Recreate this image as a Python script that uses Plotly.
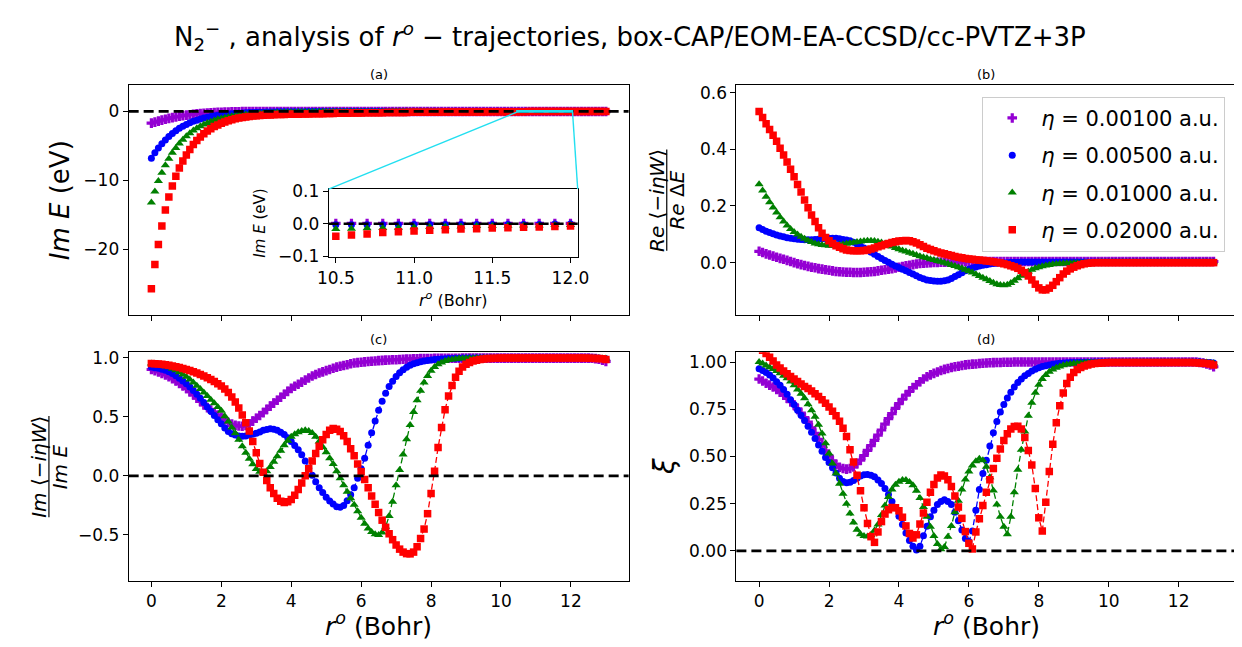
import plotly.graph_objects as go

# ---------------- data ----------------
R = [0.0, 0.1, 0.2, 0.3, 0.4, 0.5, 0.6, 0.7, 0.8, 0.9,
     1.0, 1.1, 1.2, 1.3, 1.4, 1.5, 1.6, 1.7, 1.8, 1.9,
     2.0, 2.1, 2.2, 2.3, 2.4, 2.5, 2.6, 2.7, 2.8, 2.9,
     3.0, 3.1, 3.2, 3.3, 3.4, 3.5, 3.6, 3.7, 3.8, 3.9,
     4.0, 4.1, 4.2, 4.3, 4.4, 4.5, 4.6, 4.7, 4.8, 4.9,
     5.0, 5.1, 5.2, 5.3, 5.4, 5.5, 5.6, 5.7, 5.8, 5.9,
     6.0, 6.1, 6.2, 6.3, 6.4, 6.5, 6.6, 6.7, 6.8, 6.9,
     7.0, 7.1, 7.2, 7.3, 7.4, 7.5, 7.6, 7.7, 7.8, 7.9,
     8.0, 8.1, 8.2, 8.3, 8.4, 8.5, 8.6, 8.7, 8.8, 8.9,
     9.0, 9.1, 9.2, 9.3, 9.4, 9.5, 9.6, 9.7, 9.8, 9.9,
     10.0, 10.1, 10.2, 10.3, 10.4, 10.5, 10.6, 10.7, 10.8, 10.9,
     11.0, 11.1, 11.2, 11.3, 11.4, 11.5, 11.6, 11.7, 11.8, 11.9,
     12.0, 12.1, 12.2, 12.3, 12.4, 12.5, 12.6, 12.7, 12.8, 12.9,
     13.0]

ETA_LABELS = ["0.00100", "0.00500", "0.01000", "0.02000"]

# (a) Im E (eV)
IME_P = [-1.70, -1.55, -1.40, -1.26, -1.13, -1.01, -0.90, -0.80, -0.70, -0.62,
         -0.54, -0.47, -0.41, -0.35, -0.30, -0.26, -0.22, -0.19, -0.16, -0.13,
         -0.11, -0.095, -0.08, -0.065, -0.05, -0.04, -0.03, -0.025, -0.02, -0.015,
         -0.010, -0.008, -0.006, -0.005, -0.004, -0.003, -0.002, -0.002, -0.001, -0.001,
         0.000, 0.000, 0.000, 0.001, 0.001, 0.001, 0.001, 0.001, 0.001, 0.001,
         0.001, 0.001, 0.001, 0.001, 0.001, 0.001, 0.001, 0.001, 0.001, 0.001,
         0.001, 0.001, 0.001, 0.001, 0.001, 0.001, 0.001, 0.001, 0.001, 0.001,
         0.001, 0.001, 0.001, 0.001, 0.001, 0.001, 0.001, 0.001, 0.001, 0.001,
         0.001, 0.001, 0.001, 0.001, 0.001, 0.001, 0.001, 0.001, 0.001, 0.001,
         0.001, 0.001, 0.001, 0.001, 0.001, 0.001, 0.001, 0.001, 0.001, 0.001,
         0.001, 0.001, 0.001, 0.001, 0.001, 0.001, 0.001, 0.001, 0.001, 0.001,
         0.001, 0.001, 0.001, 0.001, 0.001, 0.001, 0.001, 0.001, 0.001, 0.001,
         0.001, 0.001, 0.001, 0.001, 0.001, 0.001, 0.001, 0.001, 0.001, 0.001,
         0.001]
IME_B = [-6.80, -6.00, -5.30, -4.70, -4.15, -3.65, -3.20, -2.80, -2.45, -2.15,
         -1.88, -1.65, -1.44, -1.26, -1.10, -0.96, -0.84, -0.73, -0.64, -0.56,
         -0.49, -0.43, -0.38, -0.33, -0.29, -0.25, -0.22, -0.19, -0.17, -0.15,
         -0.13, -0.115, -0.10, -0.09, -0.08, -0.07, -0.062, -0.055, -0.049, -0.044,
         -0.040, -0.036, -0.033, -0.030, -0.028, -0.026, -0.024, -0.022, -0.021, -0.020,
         -0.019, -0.018, -0.017, -0.016, -0.015, -0.015, -0.014, -0.014, -0.013, -0.013,
         -0.012, -0.012, -0.011, -0.011, -0.011, -0.010, -0.010, -0.010, -0.009, -0.009,
         -0.009, -0.009, -0.008, -0.008, -0.008, -0.008, -0.007, -0.007, -0.007, -0.007,
         -0.007, -0.006, -0.006, -0.006, -0.006, -0.006, -0.006, -0.005, -0.005, -0.005,
         -0.005, -0.005, -0.005, -0.005, -0.004, -0.004, -0.004, -0.004, -0.004, -0.004,
         -0.004, -0.004, -0.003, -0.003, -0.003, -0.003, -0.003, -0.003, -0.003, -0.003,
         -0.002, -0.002, -0.002, -0.002, -0.002, -0.002, -0.002, -0.002, -0.002, -0.001,
         -0.001, -0.001, -0.001, -0.001, -0.001, -0.001, -0.001, -0.001, -0.001, -0.001,
         -0.001]
IME_G = [-13.2, -11.6, -10.1, -8.9, -7.8, -6.85, -6.0, -5.3, -4.65, -4.1,
         -3.6, -3.15, -2.78, -2.45, -2.15, -1.90, -1.68, -1.48, -1.30, -1.15,
         -1.02, -0.90, -0.80, -0.71, -0.63, -0.56, -0.50, -0.44, -0.39, -0.35,
         -0.31, -0.28, -0.25, -0.22, -0.20, -0.18, -0.16, -0.145, -0.13, -0.12,
         -0.11, -0.10, -0.093, -0.086, -0.080, -0.075, -0.070, -0.066, -0.062, -0.058,
         -0.055, -0.052, -0.049, -0.047, -0.045, -0.043, -0.041, -0.039, -0.038, -0.036,
         -0.035, -0.034, -0.033, -0.032, -0.031, -0.030, -0.029, -0.028, -0.028, -0.027,
         -0.026, -0.026, -0.025, -0.025, -0.024, -0.024, -0.023, -0.023, -0.022, -0.022,
         -0.022, -0.021, -0.021, -0.021, -0.020, -0.020, -0.020, -0.020, -0.019, -0.019,
         -0.019, -0.019, -0.018, -0.018, -0.018, -0.018, -0.018, -0.017, -0.017, -0.017,
         -0.017, -0.017, -0.017, -0.016, -0.016, -0.016, -0.015, -0.014, -0.013, -0.012,
         -0.011, -0.010, -0.009, -0.008, -0.007, -0.007, -0.006, -0.005, -0.005, -0.004,
         -0.004, -0.003, -0.003, -0.003, -0.002, -0.002, -0.002, -0.002, -0.001, -0.001,
         -0.001]
IME_R = [-25.7, -22.2, -19.3, -16.6, -14.3, -12.4, -10.8, -9.4, -8.2, -7.2,
         -6.3, -5.5, -4.8, -4.2, -3.7, -3.25, -2.85, -2.5, -2.2, -1.95,
         -1.72, -1.52, -1.35, -1.20, -1.07, -0.96, -0.87, -0.79, -0.72, -0.66,
         -0.61, -0.58, -0.55, -0.52, -0.50, -0.48, -0.46, -0.44, -0.43, -0.42,
         -0.41, -0.40, -0.39, -0.38, -0.37, -0.36, -0.35, -0.34, -0.33, -0.32,
         -0.31, -0.30, -0.29, -0.28, -0.27, -0.26, -0.25, -0.24, -0.23, -0.22,
         -0.21, -0.20, -0.195, -0.19, -0.185, -0.18, -0.175, -0.17, -0.165, -0.16,
         -0.155, -0.15, -0.145, -0.14, -0.135, -0.13, -0.126, -0.122, -0.118, -0.114,
         -0.110, -0.106, -0.102, -0.098, -0.095, -0.092, -0.089, -0.086, -0.083, -0.080,
         -0.077, -0.074, -0.071, -0.068, -0.066, -0.064, -0.062, -0.060, -0.058, -0.056,
         -0.054, -0.051, -0.048, -0.045, -0.041, -0.038, -0.034, -0.031, -0.027, -0.024,
         -0.022, -0.020, -0.018, -0.016, -0.015, -0.013, -0.012, -0.011, -0.010, -0.008,
         -0.007, -0.006, -0.006, -0.005, -0.005, -0.004, -0.004, -0.003, -0.003, -0.003,
         -0.002]

# (b) Re<-i eta W> / Re dE
RE_P = [0.040, 0.036, 0.031, 0.027, 0.023, 0.019, 0.015, 0.012, 0.008, 0.004,
        0.000, -0.004, -0.007, -0.010, -0.013, -0.016, -0.018, -0.021, -0.023, -0.025,
        -0.027, -0.029, -0.031, -0.032, -0.033, -0.034, -0.034, -0.035, -0.035, -0.035,
        -0.034, -0.033, -0.032, -0.031, -0.029, -0.027, -0.025, -0.023, -0.021, -0.019,
        -0.016, -0.014, -0.011, -0.009, -0.007, -0.005, -0.003, -0.002, -0.001, 0.000,
        0.001, 0.001, 0.002, 0.002, 0.002, 0.003, 0.003, 0.003, 0.003, 0.003,
        0.004, 0.004, 0.004, 0.004, 0.004, 0.004, 0.004, 0.004, 0.004, 0.004,
        0.004, 0.004, 0.004, 0.004, 0.004, 0.004, 0.004, 0.004, 0.004, 0.004,
        0.004, 0.004, 0.004, 0.004, 0.004, 0.004, 0.004, 0.004, 0.004, 0.004,
        0.004, 0.004, 0.004, 0.004, 0.004, 0.004, 0.004, 0.004, 0.004, 0.004,
        0.004, 0.004, 0.004, 0.004, 0.004, 0.004, 0.004, 0.004, 0.004, 0.004,
        0.004, 0.004, 0.004, 0.004, 0.004, 0.004, 0.004, 0.004, 0.004, 0.004,
        0.004, 0.004, 0.004, 0.004, 0.004, 0.004, 0.004, 0.004, 0.004, 0.004,
        0.004]
RE_B = [0.123, 0.117, 0.111, 0.106, 0.102, 0.098, 0.094, 0.091, 0.088, 0.086,
        0.084, 0.083, 0.082, 0.081, 0.081, 0.081, 0.082, 0.083, 0.084, 0.085,
        0.086, 0.086, 0.086, 0.084, 0.082, 0.080, 0.077, 0.072, 0.066, 0.059,
        0.052, 0.045, 0.037, 0.030, 0.022, 0.015, 0.008, 0.001, -0.006, -0.012,
        -0.017, -0.023, -0.029, -0.035, -0.040, -0.046, -0.052, -0.057, -0.061, -0.063,
        -0.065, -0.066, -0.066, -0.064, -0.061, -0.056, -0.049, -0.043, -0.036, -0.029,
        -0.023, -0.019, -0.015, -0.012, -0.009, -0.007, -0.005, -0.003, -0.002, -0.001,
        0.000, 0.000, 0.001, 0.001, 0.001, 0.002, 0.002, 0.002, 0.002, 0.002,
        0.002, 0.002, 0.002, 0.002, 0.002, 0.002, 0.002, 0.002, 0.002, 0.002,
        0.002, 0.002, 0.002, 0.002, 0.002, 0.002, 0.002, 0.002, 0.002, 0.002,
        0.002, 0.002, 0.002, 0.002, 0.002, 0.002, 0.002, 0.002, 0.002, 0.002,
        0.002, 0.002, 0.002, 0.002, 0.002, 0.002, 0.002, 0.002, 0.002, 0.002,
        0.002, 0.002, 0.002, 0.002, 0.002, 0.002, 0.002, 0.002, 0.002, 0.002,
        0.002]
RE_G = [0.277, 0.255, 0.233, 0.213, 0.195, 0.177, 0.160, 0.145, 0.131, 0.119,
        0.108, 0.099, 0.091, 0.084, 0.078, 0.073, 0.068, 0.065, 0.062, 0.061,
        0.060, 0.060, 0.061, 0.063, 0.065, 0.067, 0.069, 0.071, 0.073, 0.075,
        0.076, 0.077, 0.077, 0.076, 0.074, 0.071, 0.067, 0.062, 0.057, 0.052,
        0.047, 0.043, 0.039, 0.035, 0.031, 0.027, 0.023, 0.019, 0.016, 0.012,
        0.009, 0.006, 0.003, 0.000, -0.004, -0.008, -0.012, -0.016, -0.020, -0.025,
        -0.030, -0.035, -0.041, -0.047, -0.053, -0.059, -0.065, -0.071, -0.076, -0.079,
        -0.080, -0.078, -0.072, -0.064, -0.055, -0.046, -0.038, -0.031, -0.025, -0.020,
        -0.016, -0.013, -0.010, -0.008, -0.006, -0.005, -0.004, -0.003, -0.002, -0.002,
        -0.001, -0.001, -0.001, 0.000, 0.000, 0.000, 0.000, 0.001, 0.001, 0.001,
        0.001, 0.001, 0.001, 0.001, 0.001, 0.001, 0.001, 0.001, 0.001, 0.001,
        0.001, 0.001, 0.001, 0.001, 0.001, 0.001, 0.001, 0.001, 0.001, 0.001,
        0.001, 0.001, 0.001, 0.001, 0.001, 0.001, 0.001, 0.001, 0.001, 0.001,
        0.001]
RE_R = [0.533, 0.512, 0.490, 0.470, 0.450, 0.428, 0.404, 0.380, 0.355, 0.330,
        0.303, 0.276, 0.249, 0.221, 0.194, 0.168, 0.145, 0.123, 0.104, 0.089,
        0.077, 0.068, 0.060, 0.054, 0.049, 0.045, 0.043, 0.042, 0.042, 0.042,
        0.043, 0.045, 0.048, 0.052, 0.056, 0.060, 0.064, 0.068, 0.071, 0.074,
        0.076, 0.077, 0.078, 0.077, 0.074, 0.069, 0.063, 0.057, 0.051, 0.046,
        0.042, 0.038, 0.034, 0.031, 0.028, 0.025, 0.022, 0.019, 0.017, 0.015,
        0.013, 0.012, 0.010, 0.009, 0.008, 0.006, 0.005, 0.003, 0.001, -0.001,
        -0.004, -0.007, -0.011, -0.015, -0.020, -0.027, -0.035, -0.047, -0.061, -0.076,
        -0.089, -0.096, -0.096, -0.090, -0.080, -0.067, -0.053, -0.040, -0.030, -0.022,
        -0.016, -0.011, -0.007, -0.004, -0.002, -0.001, 0.000, 0.000, 0.000, 0.000,
        0.000, 0.000, 0.000, 0.000, 0.000, 0.000, 0.000, 0.000, 0.000, 0.000,
        0.000, 0.000, 0.000, 0.000, 0.000, 0.000, 0.000, 0.000, 0.000, 0.000,
        0.000, 0.000, 0.000, 0.000, 0.000, 0.000, 0.000, 0.000, 0.000, 0.000,
        0.000]

# (c) Im<-i eta W> / Im E
IMC_P = [0.900, 0.890, 0.879, 0.867, 0.854, 0.840, 0.822, 0.802, 0.781, 0.760,
         0.740, 0.713, 0.686, 0.658, 0.629, 0.600, 0.577, 0.556, 0.535, 0.515,
         0.495, 0.472, 0.452, 0.438, 0.428, 0.422, 0.420, 0.426, 0.440, 0.463,
         0.488, 0.511, 0.535, 0.562, 0.590, 0.615, 0.640, 0.665, 0.690, 0.715,
         0.740, 0.758, 0.775, 0.793, 0.810, 0.828, 0.845, 0.858, 0.870, 0.880,
         0.890, 0.900, 0.910, 0.920, 0.928, 0.934, 0.940, 0.948, 0.955, 0.958,
         0.961, 0.964, 0.967, 0.970, 0.972, 0.975, 0.977, 0.979, 0.980, 0.982,
         0.983, 0.985, 0.986, 0.988, 0.989, 0.990, 0.991, 0.992, 0.992, 0.993,
         0.993, 0.994, 0.994, 0.994, 0.995, 0.995, 0.995, 0.995, 0.995, 0.996,
         0.996, 0.996, 0.996, 0.996, 0.996, 0.996, 0.996, 0.996, 0.996, 0.996,
         0.996, 0.996, 0.996, 0.996, 0.996, 0.996, 0.996, 0.996, 0.996, 0.996,
         0.996, 0.996, 0.996, 0.996, 0.996, 0.996, 0.996, 0.996, 0.996, 0.996,
         0.996, 0.996, 0.996, 0.996, 0.996, 0.996, 0.995, 0.992, 0.987, 0.978,
         0.968]
IMC_B = [0.920, 0.915, 0.910, 0.903, 0.894, 0.880, 0.865, 0.846, 0.825, 0.802,
         0.780, 0.752, 0.722, 0.690, 0.656, 0.620, 0.583, 0.546, 0.510, 0.475,
         0.440, 0.405, 0.375, 0.356, 0.345, 0.338, 0.335, 0.338, 0.345, 0.352,
         0.360, 0.372, 0.385, 0.393, 0.398, 0.394, 0.385, 0.370, 0.350, 0.322,
         0.290, 0.257, 0.220, 0.178, 0.125, 0.065, 0.005, -0.050, -0.100, -0.140,
         -0.180, -0.212, -0.238, -0.262, -0.265, -0.250, -0.210, -0.160, -0.100, -0.020,
         0.060, 0.150, 0.260, 0.365, 0.465, 0.555, 0.632, 0.700, 0.755, 0.800,
         0.840, 0.872, 0.898, 0.918, 0.935, 0.948, 0.958, 0.966, 0.972, 0.977,
         0.981, 0.984, 0.987, 0.989, 0.991, 0.993, 0.994, 0.995, 0.996, 0.997,
         0.997, 0.997, 0.998, 0.998, 0.998, 0.998, 0.998, 0.998, 0.998, 0.998,
         0.998, 0.998, 0.998, 0.998, 0.998, 0.998, 0.998, 0.998, 0.998, 0.998,
         0.998, 0.998, 0.998, 0.998, 0.998, 0.998, 0.998, 0.998, 0.998, 0.998,
         0.998, 0.998, 0.998, 0.998, 0.998, 0.998, 0.998, 0.997, 0.995, 0.993,
         0.990]
IMC_G = [0.950, 0.945, 0.940, 0.934, 0.927, 0.918, 0.907, 0.893, 0.877, 0.858,
         0.838, 0.815, 0.790, 0.763, 0.735, 0.705, 0.675, 0.645, 0.615, 0.583,
         0.550, 0.505, 0.460, 0.410, 0.360, 0.305, 0.250, 0.195, 0.145, 0.098,
         0.058, 0.035, 0.027, 0.038, 0.075, 0.120, 0.165, 0.212, 0.260, 0.298,
         0.330, 0.352, 0.370, 0.380, 0.385, 0.380, 0.362, 0.330, 0.290, 0.245,
         0.200, 0.150, 0.100, 0.040, -0.020, -0.080, -0.135, -0.190, -0.245, -0.300,
         -0.355, -0.405, -0.445, -0.475, -0.495, -0.500, -0.480, -0.430, -0.340, -0.220,
         -0.080, 0.050, 0.180, 0.310, 0.430, 0.540, 0.640, 0.720, 0.790, 0.845,
         0.890, 0.922, 0.945, 0.960, 0.972, 0.980, 0.985, 0.989, 0.992, 0.994,
         0.995, 0.996, 0.996, 0.997, 0.997, 0.997, 0.998, 0.998, 0.998, 0.998,
         0.998, 0.998, 0.998, 0.998, 0.998, 0.998, 0.998, 0.998, 0.998, 0.998,
         0.998, 0.998, 0.998, 0.998, 0.998, 0.998, 0.998, 0.998, 0.998, 0.998,
         0.998, 0.998, 0.998, 0.998, 0.998, 0.998, 0.998, 0.997, 0.996, 0.994,
         0.992]
IMC_R = [0.950, 0.949, 0.947, 0.944, 0.940, 0.935, 0.930, 0.924, 0.917, 0.909,
         0.900, 0.891, 0.881, 0.870, 0.858, 0.845, 0.830, 0.815, 0.798, 0.780,
         0.760, 0.735, 0.705, 0.668, 0.625, 0.575, 0.515, 0.450, 0.380, 0.290,
         0.195, 0.105, 0.030, -0.040, -0.100, -0.150, -0.190, -0.215, -0.225, -0.220,
         -0.200, -0.165, -0.115, -0.060, 0.000, 0.060, 0.125, 0.190, 0.250, 0.305,
         0.350, 0.385, 0.400, 0.395, 0.375, 0.340, 0.290, 0.230, 0.170, 0.100,
         0.035, -0.030, -0.100, -0.170, -0.240, -0.310, -0.375, -0.435, -0.490, -0.540,
         -0.585, -0.620, -0.645, -0.658, -0.660, -0.645, -0.600, -0.530, -0.450, -0.320,
         -0.150, 0.040, 0.240, 0.410, 0.560, 0.675, 0.765, 0.835, 0.885, 0.920,
         0.945, 0.960, 0.971, 0.979, 0.985, 0.989, 0.992, 0.994, 0.995, 0.996,
         0.997, 0.997, 0.997, 0.997, 0.997, 0.997, 0.997, 0.997, 0.997, 0.997,
         0.997, 0.997, 0.997, 0.997, 0.997, 0.997, 0.997, 0.997, 0.997, 0.997,
         0.997, 0.997, 0.997, 0.997, 0.997, 0.996, 0.995, 0.994, 0.992, 0.990,
         0.985]

# (d) xi
XI_P = [0.910, 0.900, 0.888, 0.878, 0.868, 0.855, 0.840, 0.825, 0.808, 0.790,
        0.773, 0.752, 0.730, 0.706, 0.682, 0.652, 0.622, 0.590, 0.560, 0.530,
        0.502, 0.477, 0.457, 0.443, 0.436, 0.433, 0.436, 0.445, 0.462, 0.480,
        0.505, 0.532, 0.557, 0.585, 0.613, 0.640, 0.671, 0.700, 0.727, 0.755,
        0.780, 0.803, 0.825, 0.845, 0.865, 0.880, 0.896, 0.910, 0.922, 0.932,
        0.940, 0.947, 0.955, 0.961, 0.966, 0.971, 0.975, 0.978, 0.982, 0.985,
        0.987, 0.989, 0.990, 0.992, 0.994, 0.995, 0.996, 0.997, 0.998, 0.998,
        0.999, 0.999, 0.999, 1.000, 1.000, 1.000, 1.000, 1.000, 1.000, 1.000,
        1.000, 1.000, 1.000, 1.000, 1.000, 1.000, 1.000, 1.000, 1.000, 1.000,
        1.000, 1.000, 1.000, 1.000, 1.000, 1.000, 1.000, 1.000, 1.000, 1.000,
        1.000, 1.000, 1.000, 1.000, 1.000, 1.000, 1.000, 1.000, 1.000, 1.000,
        1.000, 1.000, 1.000, 1.000, 1.000, 1.000, 1.000, 1.000, 1.000, 1.000,
        1.000, 1.000, 1.000, 1.000, 1.000, 1.000, 0.998, 0.995, 0.990, 0.985,
        0.975]
XI_B = [0.965, 0.955, 0.945, 0.932, 0.915, 0.895, 0.877, 0.855, 0.830, 0.800,
        0.775, 0.745, 0.718, 0.690, 0.660, 0.628, 0.595, 0.560, 0.527, 0.495,
        0.468, 0.440, 0.412, 0.385, 0.367, 0.361, 0.363, 0.372, 0.385, 0.397,
        0.403, 0.405, 0.400, 0.392, 0.375, 0.357, 0.330, 0.298, 0.262, 0.228,
        0.183, 0.140, 0.095, 0.055, 0.025, 0.005, 0.025, 0.080, 0.130, 0.180,
        0.215, 0.245, 0.262, 0.270, 0.262, 0.245, 0.205, 0.160, 0.110, 0.065,
        0.050, 0.105, 0.215, 0.325, 0.410, 0.480, 0.555, 0.625, 0.685, 0.735,
        0.775, 0.810, 0.840, 0.868, 0.892, 0.910, 0.928, 0.940, 0.952, 0.962,
        0.970, 0.976, 0.981, 0.985, 0.988, 0.991, 0.993, 0.995, 0.996, 0.997,
        0.998, 0.998, 0.999, 0.999, 0.999, 0.999, 1.000, 1.000, 1.000, 1.000,
        1.000, 1.000, 1.000, 1.000, 1.000, 1.000, 1.000, 1.000, 1.000, 1.000,
        1.000, 1.000, 1.000, 1.000, 1.000, 1.000, 1.000, 1.000, 1.000, 1.000,
        1.000, 1.000, 1.000, 1.000, 1.000, 1.000, 1.000, 0.999, 0.998, 0.997,
        0.995]
XI_G = [1.000, 0.992, 0.982, 0.972, 0.963, 0.953, 0.941, 0.928, 0.914, 0.897,
        0.877, 0.855, 0.832, 0.808, 0.776, 0.745, 0.710, 0.668, 0.622, 0.570,
        0.515, 0.462, 0.410, 0.355, 0.302, 0.250, 0.198, 0.150, 0.112, 0.088,
        0.078, 0.076, 0.084, 0.108, 0.140, 0.190, 0.240, 0.285, 0.325, 0.350,
        0.366, 0.375, 0.375, 0.365, 0.348, 0.318, 0.280, 0.232, 0.180, 0.128,
        0.078, 0.036, 0.008, 0.020, 0.075, 0.132, 0.205, 0.265, 0.325, 0.378,
        0.420, 0.452, 0.475, 0.488, 0.480, 0.445, 0.390, 0.320, 0.245, 0.180,
        0.128, 0.088, 0.180, 0.310, 0.430, 0.535, 0.632, 0.715, 0.785, 0.838,
        0.880, 0.910, 0.932, 0.948, 0.960, 0.970, 0.977, 0.983, 0.987, 0.990,
        0.992, 0.994, 0.995, 0.996, 0.997, 0.997, 0.998, 0.998, 0.998, 0.999,
        0.999, 0.999, 0.999, 0.999, 0.999, 0.999, 0.999, 0.999, 0.999, 0.999,
        0.999, 0.999, 0.999, 0.999, 0.999, 0.999, 0.999, 0.999, 0.999, 0.999,
        0.999, 0.999, 0.999, 0.999, 0.999, 0.999, 0.999, 0.998, 0.997, 0.995,
        0.993]
XI_R = [1.080, 1.062, 1.045, 1.025, 1.005, 0.985, 0.968, 0.952, 0.938, 0.924,
        0.910, 0.897, 0.884, 0.871, 0.860, 0.846, 0.832, 0.818, 0.800, 0.782,
        0.762, 0.740, 0.715, 0.686, 0.650, 0.605, 0.535, 0.470, 0.400, 0.318,
        0.228, 0.145, 0.075, 0.045, 0.100, 0.155, 0.195, 0.218, 0.230, 0.228,
        0.212, 0.178, 0.132, 0.092, 0.068, 0.085, 0.142, 0.200, 0.258, 0.310,
        0.352, 0.386, 0.402, 0.397, 0.376, 0.341, 0.291, 0.232, 0.172, 0.102,
        0.040, 0.010, 0.100, 0.170, 0.240, 0.310, 0.376, 0.436, 0.490, 0.540,
        0.585, 0.620, 0.645, 0.658, 0.660, 0.645, 0.600, 0.532, 0.455, 0.330,
        0.175, 0.105, 0.258, 0.420, 0.565, 0.678, 0.768, 0.836, 0.886, 0.920,
        0.945, 0.960, 0.971, 0.979, 0.985, 0.989, 0.992, 0.994, 0.995, 0.996,
        0.997, 0.997, 0.997, 0.997, 0.997, 0.997, 0.997, 0.997, 0.997, 0.997,
        0.997, 0.997, 0.997, 0.997, 0.997, 0.997, 0.997, 0.997, 0.997, 0.997,
        0.997, 0.997, 0.997, 0.997, 0.997, 0.996, 0.995, 0.994, 0.992, 0.990,
        0.985]

for _arr in (IME_P, IME_B, IME_G, IME_R, RE_P, RE_B, RE_G, RE_R, IMC_P, IMC_B, IMC_G, IMC_R,
             XI_P, XI_B, XI_G, XI_R):
    assert len(_arr) == len(R), len(_arr)

# ---------------- styling / layout ----------------
W, H = 1242, 647
OFF = 8  # the page body margin shifts the figure by this much
FONT = "DejaVu Sans"
STYLES = [
    dict(color="#9400D3", symbol="cross", size=8),
    dict(color="#0000FF", symbol="circle", size=7),
    dict(color="#008000", symbol="triangle-up", size=8),
    dict(color="#FF0000", symbol="square", size=7.5),
]


def px_x(v):
    """screen pixel x -> paper coordinate"""
    return (v - OFF) / W


def px_y(v):
    """screen pixel y -> paper coordinate"""
    return (H - (v - OFF)) / H


# axis boxes in screen pixels (left, right, top, bottom)
BOX = {
    "a": (118.8, 628.6, 79.3, 315.0),
    "b": (738.5, 1248.3, 79.3, 315.0),
    "c": (118.8, 628.6, 353.3, 588.3),
    "d": (738.5, 1248.3, 353.3, 588.3),
    "i": (322.7, 576.7, 185.7, 255.7),
}
XR = [-0.65, 13.65]
YR = {"a": [-29.5, 3.77], "b": [-0.1845, 0.6254], "c": [-0.89, 1.046], "d": [-0.16, 1.052],
      "i": [-0.102, 0.106]}
XR_INSET = [10.454, 12.046]

fig = go.Figure()

panels = [
    ("x", "y", [IME_P, IME_B, IME_G, IME_R], "markers"),
    ("x2", "y2", [RE_P, RE_B, RE_G, RE_R], "markers"),
    ("x3", "y3", [IMC_P, IMC_B, IMC_G, IMC_R], "lines+markers"),
    ("x4", "y4", [XI_P, XI_B, XI_G, XI_R], "lines+markers"),
    ("x5", "y5", [IME_P, IME_B, IME_G, IME_R], "markers"),
]
for xa, ya, ys, mode in panels:
    for st, yv in zip(STYLES, ys):
        fig.add_trace(go.Scatter(
            x=R, y=yv, xaxis=xa, yaxis=ya, mode=mode,
            line=dict(color=st["color"], width=1.3, dash="6px,3px"),
            marker=dict(symbol=st["symbol"], size=st["size"], color=st["color"]),
            showlegend=False, hoverinfo="skip"))

# legend entries
for st, lab in zip(STYLES, ETA_LABELS):
    fig.add_trace(go.Scatter(
        x=[None], y=[None], xaxis="x2", yaxis="y2", mode="markers",
        marker=dict(symbol=st["symbol"], size=st["size"], color=st["color"]),
        name="<i>η</i> = " + lab + " a.u.", legendgroup=lab, showlegend=True))


def axis(box, horizontal, rng, anchor, **kw):
    l, r, t, b = BOX[box]
    dom = [px_x(l), px_x(r)] if horizontal else [px_y(b), px_y(t)]
    d = dict(domain=dom, range=rng, anchor=anchor, showline=True, linecolor="black",
             linewidth=1, mirror=True, ticks="outside", ticklen=5, tickwidth=1,
             tickcolor="black", showgrid=False, zeroline=False,
             tickfont=dict(family=FONT, size=17, color="black"))
    d.update(kw)
    return d


XT = [0, 2, 4, 6, 8, 10, 12]
XTT = ["0", "2", "4", "6", "8", "10", "12"]

layout = dict(
    width=W, height=H, margin=dict(l=0, r=0, t=0, b=0),
    paper_bgcolor="white", plot_bgcolor="white",
    font=dict(family=FONT, color="black"),
    xaxis=axis("a", True, XR, "y", tickvals=XT, showticklabels=False),
    yaxis=axis("a", False, YR["a"], "x", tickvals=[-20, -10, 0], ticktext=["−20", "−10", "0"]),
    xaxis2=axis("b", True, XR, "y2", tickvals=XT, showticklabels=False),
    yaxis2=axis("b", False, YR["b"], "x2", tickvals=[0, 0.2, 0.4, 0.6],
                ticktext=["0.0", "0.2", "0.4", "0.6"]),
    xaxis3=axis("c", True, XR, "y3", tickvals=XT, ticktext=XTT),
    yaxis3=axis("c", False, YR["c"], "x3", tickvals=[-0.5, 0, 0.5, 1.0],
                ticktext=["−0.5", "0.0", "0.5", "1.0"]),
    xaxis4=axis("d", True, XR, "y4", tickvals=XT, ticktext=XTT),
    yaxis4=axis("d", False, YR["d"], "x4", tickvals=[0, 0.25, 0.5, 0.75, 1.0],
                ticktext=["0.00", "0.25", "0.50", "0.75", "1.00"]),
    xaxis5=axis("i", True, XR_INSET, "y5", tickvals=[10.5, 11.0, 11.5, 12.0],
                ticktext=["10.5", "11.0", "11.5", "12.0"]),
    yaxis5=axis("i", False, YR["i"], "x5", tickvals=[-0.1, 0.0, 0.1],
                ticktext=["−0.1", "0.0", "0.1"]),
    legend=dict(x=px_x(1237), xanchor="right", y=px_y(91), yanchor="top",
                bgcolor="rgba(255,255,255,0.85)", bordercolor="#cccccc", borderwidth=1,
                font=dict(family=FONT, size=21, color="black"),
                traceorder="grouped", tracegroupgap=7, itemwidth=48),
    showlegend=True,
)
fig.update_layout(**layout)

# ---------------- annotations ----------------
ann = []


def text(x, y, s, size, angle=0, **kw):
    d = dict(x=px_x(x), y=px_y(y), xref="paper", yref="paper", text=s, showarrow=False,
             textangle=angle, xanchor="center", yanchor="middle",
             font=dict(family=FONT, size=size, color="black"))
    d.update(kw)
    ann.append(d)


text(630, 29, "N<sub>2</sub><sup>−</sup> , analysis of <i>r<sup>o</sup></i> − trajectories, "
              "box-CAP/EOM-EA-CCSD/cc-PVTZ+3P", 26)
text(373.7, 68, "(a)", 13)
text(993.4, 68, "(b)", 13)
text(373.7, 340.7, "(c)", 13)
text(993.4, 340.7, "(d)", 13)
text(373.7, 633, "<i>r<sup>o</sup></i> (Bohr)", 25)
text(993.4, 633, "<i>r<sup>o</sup></i> (Bohr)", 25)
text(49, 197, "<i>Im E</i> (eV)", 26, angle=-90)
# fraction label (b)
text(657.5, 197, "<i>Re</i> ⟨−<i>iηW</i>⟩", 20, angle=-90)
text(677.5, 197, "<i>Re</i> Δ<i>E</i>", 20, angle=-90)
# fraction label (c)
text(26.5, 470.8, "<i>Im</i> ⟨−<i>iηW</i>⟩", 20, angle=-90)
text(48.5, 470.8, "<i>Im E</i>", 20, angle=-90)
# xi label (d)
text(665, 470.8, "<i>ξ</i>", 28, angle=-90)
# inset labels
text(253, 221, "<i>Im E</i> (eV)", 15, angle=-90)
text(449.7, 299, "<i>r<sup>o</sup></i> (Bohr)", 16)
fig.update_layout(annotations=ann)

# ---------------- shapes ----------------
shapes = []
for xr, yr in (("x", "y"), ("x3", "y3"), ("x4", "y4"), ("x5", "y5")):
    shapes.append(dict(type="line", xref=xr + " domain", yref=yr, x0=0, x1=1, y0=0, y1=0,
                       line=dict(color="black", width=2.7, dash="10px,5px"), layer="above"))

# fraction bars
shapes.append(dict(type="line", xref="paper", yref="paper", x0=px_x(667.5), x1=px_x(667.5),
                   y0=px_y(197 - 52), y1=px_y(197 + 52), line=dict(color="black", width=1.2)))
shapes.append(dict(type="line", xref="paper", yref="paper", x0=px_x(37.5), x1=px_x(37.5),
                   y0=px_y(470.8 - 52), y1=px_y(470.8 + 52), line=dict(color="black", width=1.2)))

# inset indicator rectangle + connectors
CY = "#22dff0"
shapes.append(dict(type="rect", xref="x", yref="y", x0=XR_INSET[0], x1=XR_INSET[1],
                   y0=YR["i"][0], y1=YR["i"][1], line=dict(color=CY, width=1.4),
                   layer="above"))


def data_to_screen_a(xv, yv):
    l, r, t, b = BOX["a"]
    sx = l + (xv - XR[0]) / (XR[1] - XR[0]) * (r - l)
    sy = b - (yv - YR["a"][0]) / (YR["a"][1] - YR["a"][0]) * (b - t)
    return sx, sy


il, ir, it, ib = BOX["i"]
for xv, ix in ((XR_INSET[0], il), (XR_INSET[1], ir)):
    sx, sy = data_to_screen_a(xv, YR["i"][0])
    shapes.append(dict(type="line", xref="paper", yref="paper", x0=px_x(sx), y0=px_y(sy),
                       x1=px_x(ix), y1=px_y(it), line=dict(color=CY, width=1.4)))
fig.update_layout(shapes=shapes)

fig.write_html("out.html")
